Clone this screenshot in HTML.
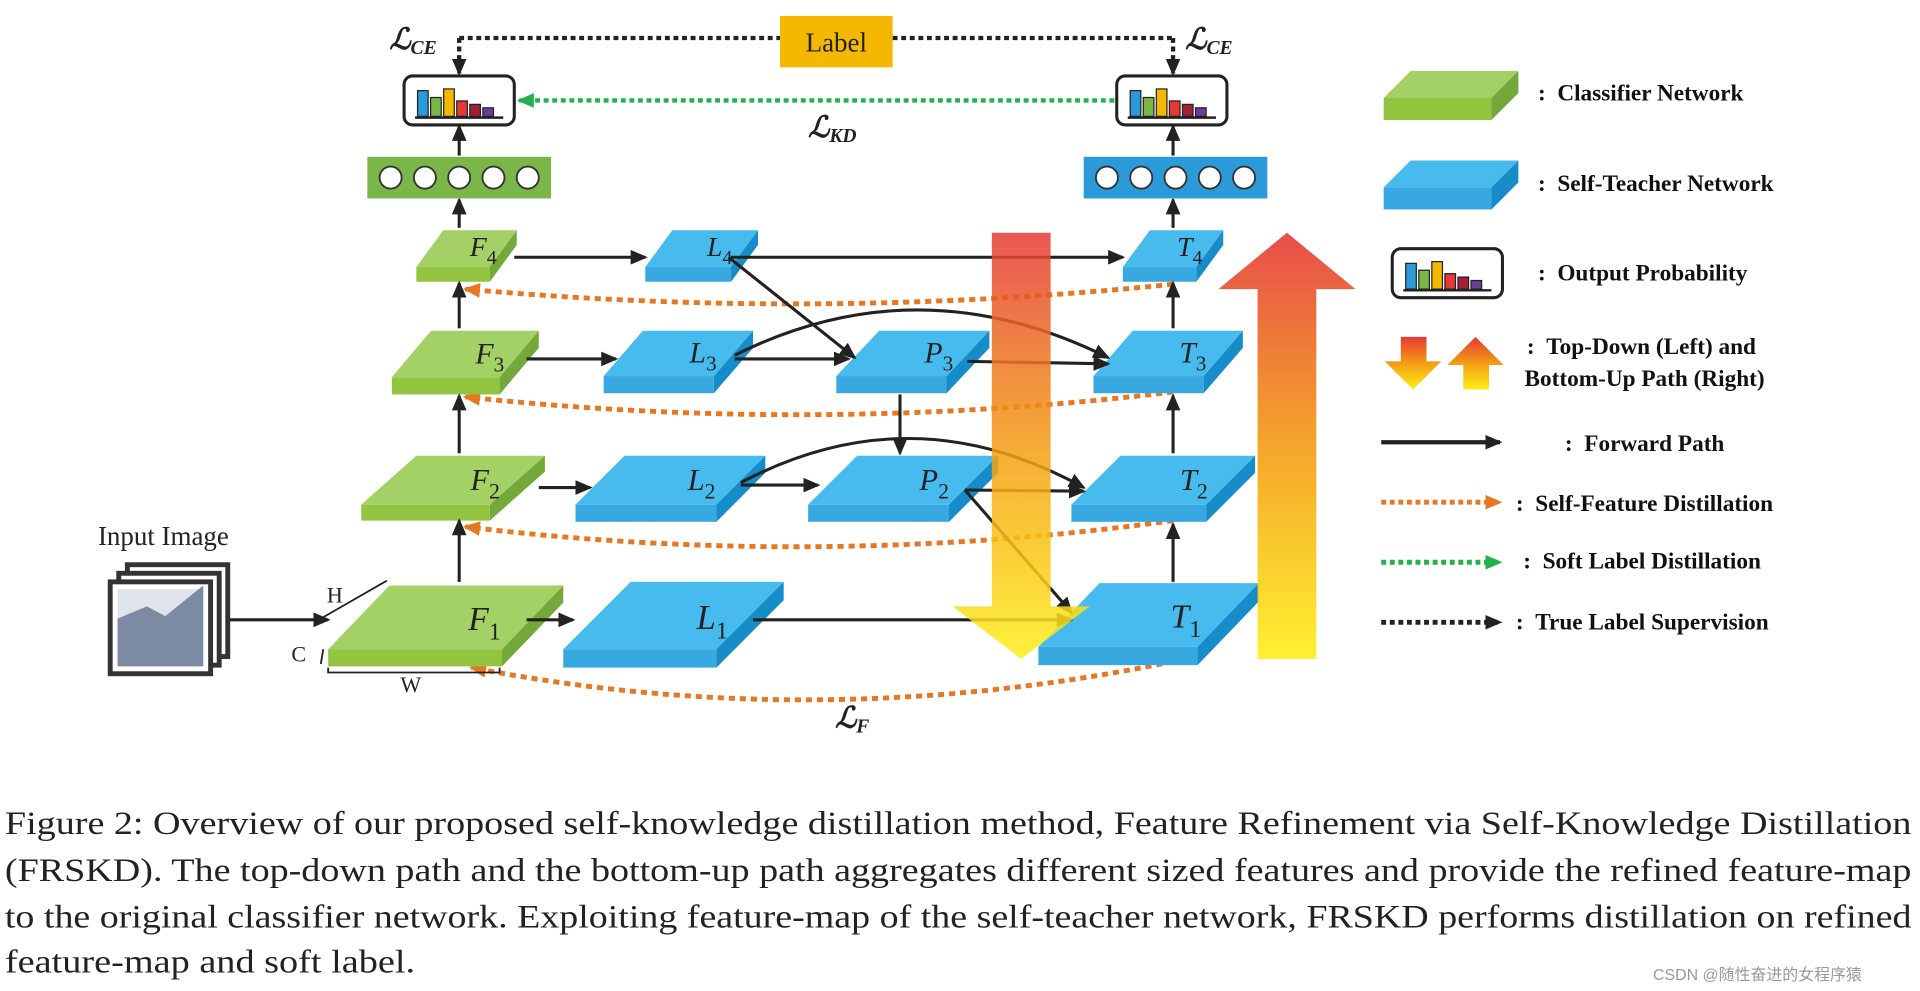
<!DOCTYPE html>
<html><head><meta charset="utf-8"><style>
html,body{margin:0;padding:0;background:#fff;width:1920px;height:991px;overflow:hidden}
svg{display:block}
.s{font-family:"Liberation Serif",serif}
</style></head><body>
<svg id="c" width="1920" height="991" viewBox="0 0 1568 809" preserveAspectRatio="none" xmlns="http://www.w3.org/2000/svg">
<defs>
<marker id="ab2" markerWidth="14" markerHeight="12" refX="12" refY="6" orient="auto" markerUnits="userSpaceOnUse"><path d="M0,0 L14,6 L0,12 z" fill="#222"/></marker>
<marker id="ao" markerWidth="14" markerHeight="12" refX="12" refY="6" orient="auto" markerUnits="userSpaceOnUse"><path d="M0,0 L14,6 L0,12 z" fill="#e87722"/></marker>
<marker id="ag" markerWidth="14" markerHeight="12" refX="12" refY="6" orient="auto" markerUnits="userSpaceOnUse"><path d="M0,0 L14,6 L0,12 z" fill="#22b14c"/></marker>
<linearGradient id="gd" x1="0" y1="0" x2="0" y2="1"><stop offset="0" stop-color="#e53935"/><stop offset="0.5" stop-color="#f39c12"/><stop offset="1" stop-color="#ffef1a"/></linearGradient>
<linearGradient id="gu" x1="0" y1="1" x2="0" y2="0"><stop offset="0" stop-color="#ffef1a"/><stop offset="0.5" stop-color="#f39c12"/><stop offset="1" stop-color="#e53935"/></linearGradient>
</defs>
<g id="g"></g>
</svg>
<script>
var o='';
function slab(x,y,w,dx,dy,t,c,lab,sub){
 var top=c=='g'?'#a3d165':'#47bbee', fr=c=='g'?'#93c43f':'#38a8e0', sd=c=='g'?'#74a83a':'#168cc8';
 o+='<polygon points="'+x+','+y+' '+(x+w)+','+y+' '+(x+w+dx)+','+(y-dy)+' '+(x+dx)+','+(y-dy)+'" fill="'+top+'"/>';
 o+='<rect x="'+x+'" y="'+y+'" width="'+w+'" height="'+t+'" fill="'+fr+'"/>';
 o+='<polygon points="'+(x+w)+','+y+' '+(x+w+dx)+','+(y-dy)+' '+(x+w+dx)+','+(y-dy+t)+' '+(x+w)+','+(y+t)+'" fill="'+sd+'"/>';
 if(lab){var fs=16+dy*0.22;
 o+='<text class="s" x="'+(x+w*0.6+dx*0.85)+'" y="'+(y-dy*0.3)+'" font-size="'+fs+'" font-style="italic" fill="#222" text-anchor="middle">'+lab+'<tspan font-size="'+(fs*0.72)+'" dy="'+(fs*0.28)+'" font-style="normal">'+sub+'</tspan></text>';}
}
function line(p,m,sw,dash,col){o+='<path d="'+p+'" fill="none" stroke="'+(col||'#222')+'" stroke-width="'+(sw||2.5)+'"'+(dash?' stroke-dasharray="'+dash+'"':'')+(m?' marker-end="url(#'+m+')"':'')+'/>';}
function vec(x,y,c){o+='<rect x="'+x+'" y="'+y+'" width="150" height="34" fill="'+(c=='g'?'#7ab648':'#2a9ad8')+'"/>';for(var i=0;i<5;i++)o+='<circle cx="'+(x+19+i*28)+'" cy="'+(y+17)+'" r="9" fill="#fff" stroke="#333" stroke-width="1.5"/>';}
function prob(x,y,w,h){o+='<rect x="'+x+'" y="'+y+'" width="'+w+'" height="'+h+'" rx="7" fill="#fff" stroke="#222" stroke-width="2.5"/>';
 var cols=['#2a9ad8','#7ab648','#f5b800','#e53935','#a0203a','#6a3d9a'],hs=[0.75,0.55,0.8,0.45,0.35,0.25],bw=(w-26)/6;
 for(var i=0;i<6;i++){var bh=hs[i]*(h-12);o+='<rect x="'+(x+11+i*bw)+'" y="'+(y+h-7-bh)+'" width="'+(bw-2)+'" height="'+bh+'" fill="'+cols[i]+'" stroke="#222" stroke-width="1"/>';}
 o+='<line x1="'+(x+9)+'" y1="'+(y+h-6)+'" x2="'+(x+w-9)+'" y2="'+(y+h-6)+'" stroke="#222" stroke-width="2"/>';}
line('M958,232 Q668,262 380,236','ao',4,'5 4','#e87722');
line('M958,320 Q668,355 380,324','ao',4,'5 4','#e87722');
line('M958,425 Q668,465 380,430','ao',4,'5 4','#e87722');
line('M958,540 Q668,600 385,545','ao',4,'5 4','#e87722');
slab(268,530,142,50,52,14,'g','F','1');
slab(295,412,105,45,40,13,'g','F','2');
slab(320,308,88,32,38,14,'g','F','3');
slab(340,218,60,22,30,12,'g','F','4');
slab(460,530,125,55,55,15,'b','L','1');
slab(470,412,115,40,40,14,'b','L','2');
slab(493,307,90,32,37,14,'b','L','3');
slab(527,218,70,22,30,12,'b','L','4');
slab(683,307,90,35,37,14,'b','P','3');
slab(660,412,115,40,40,14,'b','P','2');
slab(848,528,130,50,52,15,'b','T','1');
slab(875,412,110,40,40,14,'b','T','2');
slab(893,307,90,32,37,14,'b','T','3');
slab(917,218,60,22,30,12,'b','T','4');
var A='ab2';
line('M187,506 L268,506',A);
line('M375,475 L375,425',A);line('M375,370 L375,323',A);line('M375,268 L375,231',A);line('M375,186 L375,163',A);line('M375,127 L375,103',A);
line('M958,475 L958,428',A);line('M958,370 L958,323',A);line('M958,268 L958,231',A);line('M958,186 L958,163',A);line('M958,127 L958,103',A);
line('M420,210 L527,210',A);line('M597,210 L917,210',A);
line('M430,293 L503,293',A);line('M600,293 L693,293',A);line('M595,210 L698,292',A);
line('M600,290 Q750,215 905,292',A);line('M790,295 L905,297',A);line('M735,322 L735,370',A);
line('M440,398 L482,398',A);line('M605,396 L668,396',A);line('M605,394 Q745,320 885,398',A);
line('M788,400 L885,401',A);line('M788,400 L875,500',A);
line('M430,506 L468,506',A);line('M615,506 L875,506',A);
o+='<g opacity="0.85"><path d="M810,190 L858,190 L858,495 L890,495 L834,538 L778,495 L810,495 z" fill="url(#gd)"/></g>';
o+='<g opacity="0.9"><path d="M1027,538 L1075,538 L1075,236 L1107,236 L1051,190 L995,236 L1027,236 z" fill="url(#gu)"/></g>';
vec(300,128,'g');vec(885,128,'b');
prob(330,62,90,40);prob(912,62,90,40);
line('M375,31 L637,31 M729,31 L958,31',null,3.5,'4 3','#222');
line('M375,31 L375,60','ab2',3.5,'4 3');line('M958,31 L958,60','ab2',3.5,'4 3');
o+='<rect x="637" y="13" width="92" height="42" fill="#f5b800"/><text class="s" x="683" y="42" font-size="22" text-anchor="middle" fill="#222">Label</text>';
line('M910,82 L424,82','ag',3.5,'4 3','#22b14c');
function L(x,y,s){o+='<text class="s" x="'+x+'" y="'+y+'" font-size="24" font-style="italic" font-weight="bold" fill="#222">ℒ<tspan font-size="16" dy="4">'+s+'</tspan></text>';}
L(318,40,'CE');L(968,40,'CE');L(660,112,'KD');L(682,594,'F');
for(var i=2;i>=0;i--){o+='<rect x="'+(90+i*7)+'" y="'+(475-i*7)+'" width="82" height="75" fill="#fff" stroke="#333" stroke-width="4"/>';}
o+='<rect x="96" y="481" width="70" height="63" fill="#dfe3ea"/><path d="M96,544 L96,505 L120,495 L135,503 L166,478 L166,544 z" fill="#7d8aa3"/>';
o+='<text class="s" x="80" y="445" font-size="22" fill="#222">Input Image</text>';
o+='<text class="s" x="267" y="492" font-size="18" fill="#222">H</text><text class="s" x="238" y="540" font-size="18" fill="#222">C</text><text class="s" x="327" y="565" font-size="18" fill="#222">W</text>';
line('M262,505 L316,474 M264,530 L262,542 M268,545 L268,549 L408,549 L408,545',null,1.5);
slab(1130,80,88,22,22,18,'g');slab(1130,153,88,22,22,18,'b');
prob(1137,203,90,40);
o+='<path d="M1144,275 L1165,275 L1165,295 L1177,295 L1154,318 L1131,295 L1144,295 z" fill="url(#gd)"/>';
o+='<path d="M1195,318 L1216,318 L1216,298 L1228,298 L1205,275 L1182,298 L1195,298 z" fill="url(#gu)"/>';
line('M1128,361 L1225,361','ab2',3.5);
line('M1128,410 L1225,410','ao',4,'4 3','#e87722');
line('M1128,459 L1225,459','ag',4,'4 3','#22b14c');
line('M1128,508 L1225,508','ab2',4,'4 3','#222');
function T(x,y,t){o+='<text class="s" x="'+x+'" y="'+y+'" font-size="19" font-weight="bold" fill="#111">'+t+'</text>';}
T(1256,82,':&#160;&#160;Classifier Network');T(1256,156,':&#160;&#160;Self-Teacher Network');T(1256,229,':&#160;&#160;Output Probability');
T(1247,289,':&#160;&#160;Top-Down (Left) and');T(1245,315,'Bottom-Up Path (Right)');
T(1278,368,':&#160;&#160;Forward Path');T(1238,417,':&#160;&#160;Self-Feature Distillation');T(1244,464,':&#160;&#160;Soft Label Distillation');T(1238,514,':&#160;&#160;True Label Supervision');
var cap=['Figure 2: Overview of our proposed self-knowledge distillation method, Feature Refinement via Self-Knowledge Distillation','(FRSKD). The top-down path and the bottom-up path aggregates different sized features and provide the refined feature-map','to the original classifier network. Exploiting feature-map of the self-teacher network, FRSKD performs distillation on refined','feature-map and soft label.'];
var ys=[681,719,757,794],ws=[1557,1557,1557,335];
for(var i=0;i<4;i++)o+='<text class="s" x="4" y="'+ys[i]+'" font-size="27" fill="#222" textLength="'+ws[i]+'" lengthAdjust="spacingAndGlyphs">'+cap[i]+'</text>';
o+='<text x="1350" y="800" font-family="Liberation Sans, Noto Sans CJK SC, sans-serif" font-size="13" fill="#999">CSDN @随性奋进的女程序猿</text>';
document.getElementById('g').innerHTML=o;
</script>
</body></html>
